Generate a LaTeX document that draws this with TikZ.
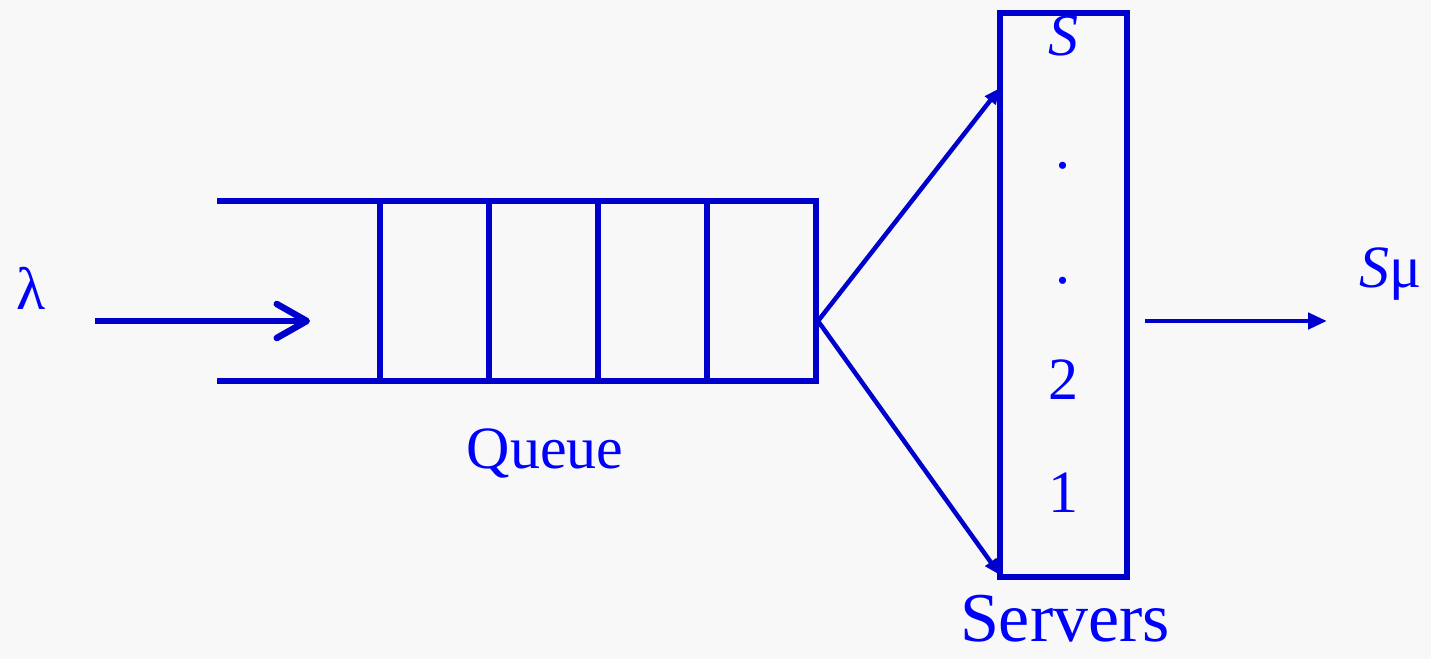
\documentclass[tikz,border=0pt]{standalone}
\usepackage{fontspec}
\setmainfont{Liberation Serif}
\usetikzlibrary{arrows.meta}
\definecolor{lineblue}{RGB}{0,0,204}
\definecolor{textblue}{RGB}{0,0,255}
\definecolor{paper}{RGB}{248,248,248}
\tikzset{
  wire/.style={draw=lineblue, line width=6.5pt},
  cell/.style={wire, minimum width=109pt, minimum height=180pt, inner sep=0pt, outer sep=0pt},
  fan/.style={draw=lineblue, line width=4.5pt, -{Triangle[length=16pt,width=13pt]}},
  txt/.style={text=textblue, inner sep=0pt, anchor=base, font=\fontsize{60}{72}\selectfont},
}
\begin{document}
\begin{tikzpicture}[x=1pt, y=-1pt]
\fill[paper] (0,0) rectangle (1431,659);
\useasboundingbox (0,0) rectangle (1431,659);
\node[txt] (lambda) at (31,309) {λ};
\coordinate (in) at (95,321);
\coordinate (inend) at (310,321);
\draw[wire, -{Straight Barb[length=30pt,width=34pt,round]}] (in) -- (inend);
\foreach \i in {0,...,3}
  \node[cell] (c\i) at (434.5+109*\i, 291) {};
\draw[wire] (217,201) -- (c0.north west);
\draw[wire] (217,381) -- (c0.south west);
\node[txt] (queue) at (545,468) {Queue};
\node[wire, minimum width=127pt, minimum height=564pt, inner sep=0pt, outer sep=0pt] (servers) at (1063.5,295) {};
\node[txt] (sS) at (1063,55) {\textit{S}};
\node[txt] (dot1) at (1063,168) {.};
\node[txt] (dot2) at (1063,283) {.};
\node[txt] (s2) at (1063,399) {2};
\node[txt] (s1) at (1063,512) {1};
\coordinate (fan) at (818,321);
\coordinate (totop) at (1000,88);
\coordinate (tobot) at (1000,575);
\draw[fan] (fan) -- (totop);
\draw[fan] (fan) -- (tobot);
\coordinate (out) at (1145,321);
\coordinate (outend) at (1327,321);
\draw[lineblue, line width=4.5pt, -{Triangle[length=19pt,width=16pt]}] (out) -- (outend);
\node[txt] (rate) at (1391,287) {\textit{S}μ};
\node[txt, font=\fontsize{70}{84}\selectfont] (srvlabel) at (1065,641) {Servers};
\end{tikzpicture}
\end{document}
